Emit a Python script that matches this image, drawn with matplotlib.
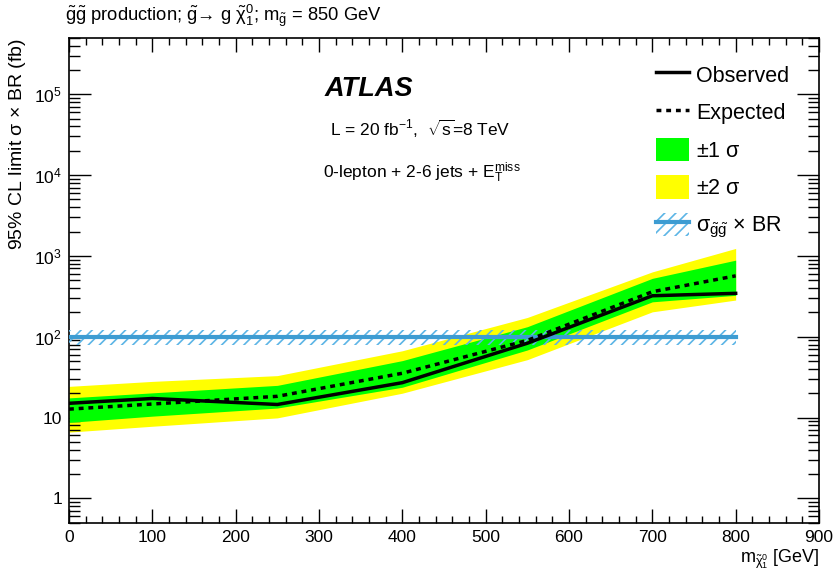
import numpy as np
import matplotlib
matplotlib.use("Agg")
import matplotlib.pyplot as plt
from matplotlib.lines import Line2D
from matplotlib.patches import Patch
from matplotlib.legend_handler import HandlerTuple
from matplotlib.ticker import FixedLocator, LogLocator, NullFormatter, FuncFormatter, MultipleLocator

plt.rcParams['font.family'] = ['Liberation Sans', 'DejaVu Sans']
plt.rcParams['mathtext.fontset'] = 'custom'
plt.rcParams['mathtext.rm'] = 'Liberation Sans'
plt.rcParams['mathtext.it'] = 'Liberation Sans:italic'
plt.rcParams['mathtext.bf'] = 'Liberation Sans:bold'
plt.rcParams['mathtext.default'] = 'rm'
plt.rcParams['hatch.linewidth'] = 1.2

# neutralino mass points [GeV]
mass = [0, 100, 250, 400, 550, 700, 800]
# limits in fb
observed = [15.0, 17.2, 14.5, 27.0, 83.0, 321.0, 344.0]
expected = [12.7, 14.7, 18.3, 35.3, 90.0, 360.0, 566.0]
sig1_up = [17.5, 20.2, 25.0, 50.6, 133.0, 527.0, 885.0]
sig1_dn = [8.7, 10.4, 13.1, 23.7, 68.5, 270.0, 325.0]
sig2_up = [24.3, 28.0, 33.0, 67.0, 173.0, 634.0, 1236.0]
sig2_dn = [6.6, 7.8, 9.9, 20.0, 52.0, 203.0, 284.0]
# gluino pair cross section x BR (flat, m_gluino = 850 GeV)
xsec_mass = [0, 800]
xsec = 100.0
xsec_up = 121.0
xsec_dn = 79.0

blue = '#3d9cd2'
hatch_blue = '#5cb5e6'

fig = plt.figure(figsize=(8.35, 5.79), dpi=100)
ax = fig.add_axes([69/835, 1 - 522.7/579, 750/835, 485/579])

ax.fill_between(mass, sig2_dn, sig2_up, color='#ffff00', lw=0, zorder=1)
ax.fill_between(mass, sig1_dn, sig1_up, color='#00ff00', lw=0, zorder=2)
ax.fill_between(xsec_mass, [xsec_dn]*2, [xsec_up]*2, facecolor='none',
                edgecolor=hatch_blue, hatch='///', lw=0, zorder=3)
ax.plot(xsec_mass, [xsec]*2, color=blue, lw=3, zorder=4)
ax.plot(mass, expected, color='black', lw=2.5, ls=(0, (1.4, 1.4)), zorder=5)
ax.plot(mass, observed, color='black', lw=2.5, zorder=6)

ax.set_xlim(0, 900)
ax.set_yscale('log')
ax.set_ylim(0.5, 5e5)

ax.xaxis.set_major_locator(MultipleLocator(100))
ax.xaxis.set_minor_locator(MultipleLocator(20))
ax.yaxis.set_major_locator(FixedLocator([1, 10, 100, 1e3, 1e4, 1e5]))
ax.yaxis.set_minor_locator(LogLocator(base=10, subs=np.arange(2, 10)))
ax.yaxis.set_minor_formatter(NullFormatter())


def ylab(v, pos):
    if v == 1:
        return '1'
    if v == 10:
        return '10'
    return r'$10^{%d}$' % int(round(np.log10(v)))


ax.yaxis.set_major_formatter(FuncFormatter(ylab))

ax.tick_params(which='both', direction='in', top=True, right=True, labelsize=12.5, width=1)
ax.tick_params(axis='x', which='major', length=10, pad=5)
ax.tick_params(axis='x', which='minor', length=5)
ax.tick_params(axis='y', which='major', length=16, pad=5)
ax.tick_params(axis='y', which='minor', length=8)
for s in ax.spines.values():
    s.set_linewidth(1.2)

ax.set_ylabel(r'95% CL limit $\sigma$ $\times$ BR (fb)', fontsize=14, ha='right', va='center')
ax.yaxis.set_label_coords(-0.069, 0.999)
ax.set_xlabel(r'm$_{\tilde{\chi}_1^0}$ [GeV]', fontsize=13, ha='right', va='baseline')
ax.xaxis.set_label_coords(1.0, -0.082)

fig.text(65/835, 1 - 21/579,
         r'$\tilde{g}\tilde{g}$ production; $\tilde{g}$→ g $\tilde{\chi}_1^0$; m$_{\tilde{g}}$ = 850 GeV',
         fontsize=13.2, va='baseline')

ax.text(0.341, 0.88, 'ATLAS', transform=ax.transAxes, fontsize=19.5,
        fontweight='bold', fontstyle='italic', va='baseline')
ax.text(0.348, 0.797, r'L = 20 fb$^{-1}$,  $\sqrt{\mathrm{s}}$=8 TeV', transform=ax.transAxes,
        fontsize=12.5, va='baseline')
ax.text(0.339, 0.711, r'0-lepton + 2-6 jets + E$_{\mathrm{T}}^{\mathrm{miss}}$', transform=ax.transAxes,
        fontsize=12.5, va='baseline')

h_obs = Line2D([], [], color='black', lw=2.5)
h_exp = Line2D([], [], color='black', lw=2.5, ls=(0, (1.4, 1.4)))
h_1s = Patch(facecolor='#00ff00', edgecolor='none')
h_2s = Patch(facecolor='#ffff00', edgecolor='none')
h_th = (Patch(facecolor='none', edgecolor=hatch_blue, hatch='///', lw=0),
        Line2D([], [], color=blue, lw=3))
ax.legend([h_obs, h_exp, h_1s, h_2s, h_th],
          ['Observed', 'Expected', r'$\pm$1 $\sigma$', r'$\pm$2 $\sigma$',
           r'$\sigma_{\tilde{g}\tilde{g}}$ $\times$ BR'],
          handler_map={tuple: HandlerTuple(ndivide=1)},
          loc='upper left', bbox_to_anchor=(0.783, 0.948), frameon=False,
          fontsize=15.5, handlelength=1.53, handleheight=1.3, labelspacing=0.63,
          handletextpad=0.33, borderpad=0, borderaxespad=0)

fig.savefig('out.png', dpi=100)
